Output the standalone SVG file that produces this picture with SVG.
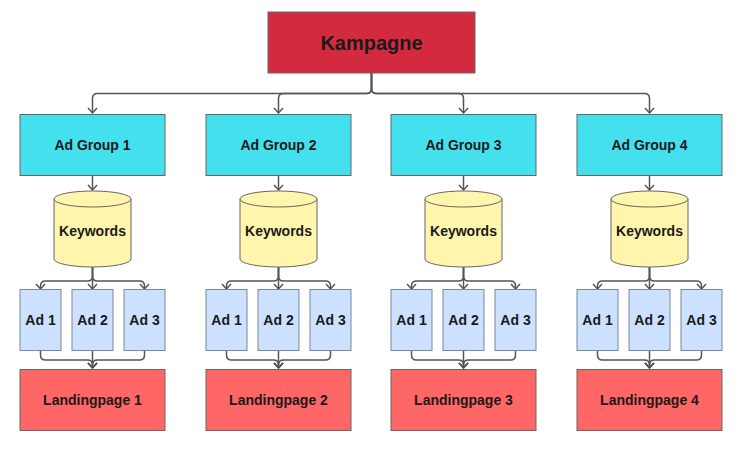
<svg xmlns="http://www.w3.org/2000/svg" width="747" height="449" viewBox="0 0 747 449">
<style>
text{font-family:"Liberation Sans",Arial,sans-serif;font-weight:bold;fill:#1a1a1a;text-anchor:middle;dominant-baseline:central}
.lbl{font-size:14px}
.camp{fill:#d42a3f;stroke:#666;stroke-width:1}
.grp{fill:#45e0ee;stroke:#666;stroke-width:1}
.kw{fill:#fff5ad;stroke:#666;stroke-width:1}
.ad{fill:#cce0ff;stroke:#7a8699;stroke-width:1}
.lp{fill:#ff6666;stroke:#666;stroke-width:1}
.e{fill:none;stroke:#555;stroke-width:1.5;marker-end:url(#arr)}
</style>
<defs>
<marker id="arr" viewBox="-7 -6 9 12" markerWidth="9" markerHeight="12" refX="0" refY="0" orient="auto" markerUnits="userSpaceOnUse">
<path d="M-5,-4.5 L0,0 L-5,4.5" fill="none" stroke="#555" stroke-width="1.5"/>
</marker>
</defs>
<rect width="747" height="449" fill="#fff"/>
<g id="connectors">
<path class="e" d="M371.5,73 V88.5 Q371.5,93.5 366.5,93.5 H97.5 Q92.5,93.5 92.5,98.5 V113"/>
<path class="e" d="M371.5,73 V88.5 Q371.5,93.5 366.5,93.5 H283.5 Q278.5,93.5 278.5,98.5 V113"/>
<path class="e" d="M371.5,73 V88.5 Q371.5,93.5 376.5,93.5 H458.5 Q463.5,93.5 463.5,98.5 V113"/>
<path class="e" d="M371.5,73 V88.5 Q371.5,93.5 376.5,93.5 H644.5 Q649.5,93.5 649.5,98.5 V113"/>
<path class="e" d="M92.5,176 V190"/>
<path class="e" d="M278.5,176 V190"/>
<path class="e" d="M463.5,176 V190"/>
<path class="e" d="M649.5,176 V190"/>
<path class="e" d="M92.5,267 V276 Q92.5,281 87.5,281 H45.5 Q40.5,281 40.5,286 V289"/>
<path class="e" d="M92.5,267 V289"/>
<path class="e" d="M92.5,267 V276 Q92.5,281 97.5,281 H139.5 Q144.5,281 144.5,286 V289"/>
<path class="e" d="M278.5,267 V276 Q278.5,281 273.5,281 H231.5 Q226.5,281 226.5,286 V289"/>
<path class="e" d="M278.5,267 V289"/>
<path class="e" d="M278.5,267 V276 Q278.5,281 283.5,281 H325.5 Q330.5,281 330.5,286 V289"/>
<path class="e" d="M463.5,267 V276 Q463.5,281 458.5,281 H416.5 Q411.5,281 411.5,286 V289"/>
<path class="e" d="M463.5,267 V289"/>
<path class="e" d="M463.5,267 V276 Q463.5,281 468.5,281 H510.5 Q515.5,281 515.5,286 V289"/>
<path class="e" d="M649.5,267 V276 Q649.5,281 644.5,281 H602.5 Q597.5,281 597.5,286 V289"/>
<path class="e" d="M649.5,267 V289"/>
<path class="e" d="M649.5,267 V276 Q649.5,281 654.5,281 H696.5 Q701.5,281 701.5,286 V289"/>
<path class="e" d="M40.5,351 V355 Q40.5,360 45.5,360 H87.5 Q92.5,360 92.5,365 V368"/>
<path class="e" d="M92.5,351 V368"/>
<path class="e" d="M144.5,351 V355 Q144.5,360 139.5,360 H97.5 Q92.5,360 92.5,365 V368"/>
<path class="e" d="M226.5,351 V355 Q226.5,360 231.5,360 H273.5 Q278.5,360 278.5,365 V368"/>
<path class="e" d="M278.5,351 V368"/>
<path class="e" d="M330.5,351 V355 Q330.5,360 325.5,360 H283.5 Q278.5,360 278.5,365 V368"/>
<path class="e" d="M411.5,351 V355 Q411.5,360 416.5,360 H458.5 Q463.5,360 463.5,365 V368"/>
<path class="e" d="M463.5,351 V368"/>
<path class="e" d="M515.5,351 V355 Q515.5,360 510.5,360 H468.5 Q463.5,360 463.5,365 V368"/>
<path class="e" d="M597.5,351 V355 Q597.5,360 602.5,360 H644.5 Q649.5,360 649.5,365 V368"/>
<path class="e" d="M649.5,351 V368"/>
<path class="e" d="M701.5,351 V355 Q701.5,360 696.5,360 H654.5 Q649.5,360 649.5,365 V368"/>
</g>
<g id="kampagne"><rect class="camp" x="268" y="12" width="207" height="61"/><text x="371.5" y="43" font-size="20">Kampagne</text></g>
<g id="group1"><rect class="grp" x="20" y="114.5" width="145" height="61"/><text class="lbl" x="92.5" y="145">Ad Group 1</text></g>
<g id="group2"><rect class="grp" x="206" y="114.5" width="145" height="61"/><text class="lbl" x="278.5" y="145">Ad Group 2</text></g>
<g id="group3"><rect class="grp" x="391" y="114.5" width="145" height="61"/><text class="lbl" x="463.5" y="145">Ad Group 3</text></g>
<g id="group4"><rect class="grp" x="577" y="114.5" width="145" height="61"/><text class="lbl" x="649.5" y="145">Ad Group 4</text></g>
<g id="keywords1"><path class="kw" d="M54,199 A38.5,8 0 0 1 131,199 V259 A38.5,8 0 0 1 54,259 Z"/><path class="kw" fill="none" d="M54,199 A38.5,8 0 0 0 131,199"/><text class="lbl" x="92.5" y="231">Keywords</text></g>
<g id="keywords2"><path class="kw" d="M240,199 A38.5,8 0 0 1 317,199 V259 A38.5,8 0 0 1 240,259 Z"/><path class="kw" fill="none" d="M240,199 A38.5,8 0 0 0 317,199"/><text class="lbl" x="278.5" y="231">Keywords</text></g>
<g id="keywords3"><path class="kw" d="M425,199 A38.5,8 0 0 1 502,199 V259 A38.5,8 0 0 1 425,259 Z"/><path class="kw" fill="none" d="M425,199 A38.5,8 0 0 0 502,199"/><text class="lbl" x="463.5" y="231">Keywords</text></g>
<g id="keywords4"><path class="kw" d="M611,199 A38.5,8 0 0 1 688,199 V259 A38.5,8 0 0 1 611,259 Z"/><path class="kw" fill="none" d="M611,199 A38.5,8 0 0 0 688,199"/><text class="lbl" x="649.5" y="231">Keywords</text></g>
<g id="g1ad1"><rect class="ad" x="20" y="289.5" width="41" height="61"/><text class="lbl" x="40.5" y="320">Ad 1</text></g>
<g id="g1ad2"><rect class="ad" x="72" y="289.5" width="41" height="61"/><text class="lbl" x="92.5" y="320">Ad 2</text></g>
<g id="g1ad3"><rect class="ad" x="124" y="289.5" width="41" height="61"/><text class="lbl" x="144.5" y="320">Ad 3</text></g>
<g id="g2ad1"><rect class="ad" x="206" y="289.5" width="41" height="61"/><text class="lbl" x="226.5" y="320">Ad 1</text></g>
<g id="g2ad2"><rect class="ad" x="258" y="289.5" width="41" height="61"/><text class="lbl" x="278.5" y="320">Ad 2</text></g>
<g id="g2ad3"><rect class="ad" x="310" y="289.5" width="41" height="61"/><text class="lbl" x="330.5" y="320">Ad 3</text></g>
<g id="g3ad1"><rect class="ad" x="391" y="289.5" width="41" height="61"/><text class="lbl" x="411.5" y="320">Ad 1</text></g>
<g id="g3ad2"><rect class="ad" x="443" y="289.5" width="41" height="61"/><text class="lbl" x="463.5" y="320">Ad 2</text></g>
<g id="g3ad3"><rect class="ad" x="495" y="289.5" width="41" height="61"/><text class="lbl" x="515.5" y="320">Ad 3</text></g>
<g id="g4ad1"><rect class="ad" x="577" y="289.5" width="41" height="61"/><text class="lbl" x="597.5" y="320">Ad 1</text></g>
<g id="g4ad2"><rect class="ad" x="629" y="289.5" width="41" height="61"/><text class="lbl" x="649.5" y="320">Ad 2</text></g>
<g id="g4ad3"><rect class="ad" x="681" y="289.5" width="41" height="61"/><text class="lbl" x="701.5" y="320">Ad 3</text></g>
<g id="landing1"><rect class="lp" x="20" y="369.5" width="145" height="61"/><text class="lbl" x="92.5" y="400">Landingpage 1</text></g>
<g id="landing2"><rect class="lp" x="206" y="369.5" width="145" height="61"/><text class="lbl" x="278.5" y="400">Landingpage 2</text></g>
<g id="landing3"><rect class="lp" x="391" y="369.5" width="145" height="61"/><text class="lbl" x="463.5" y="400">Landingpage 3</text></g>
<g id="landing4"><rect class="lp" x="577" y="369.5" width="145" height="61"/><text class="lbl" x="649.5" y="400">Landingpage 4</text></g>
</svg>
